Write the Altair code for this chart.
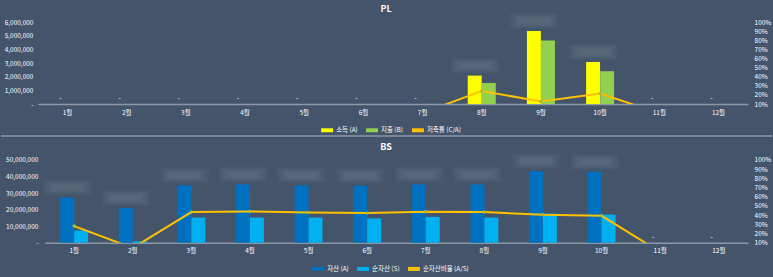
import altair as alt
import pandas as pd

months = ["1월", "2월", "3월", "4월", "5월", "6월", "7월", "8월", "9월", "10월", "11월", "12월"]

pl_names = ["소득 (A)", "지출 (B)", "저축률 (C/A)"]
pl_income = [0, 0, 0, 0, 0, 0, 0, 2090000, 5370000, 3090000, 0, 0]
pl_expense = [0, 0, 0, 0, 0, 0, 0, 1550000, 4670000, 2410000, 0, 0]
pl_rate = [0, 0, 0, 0, 0, 0, 0, 0.245, 0.128, 0.216, 0, 0]

bs_names = ["자산 (A)", "순자산 (S)", "순자산비율 (A/S)"]
bs_assets = [27300000, 21000000, 34700000, 35200000, 34700000, 34500000,
             35200000, 35200000, 43200000, 42800000, 0, 0]
bs_net = [7400000, 900000, 15200000, 15200000, 15200000, 14700000,
          15600000, 15200000, 17600000, 17000000, 0, 0]
bs_ratio = [0.281, 0.043, 0.433, 0.440, 0.429, 0.422, 0.436, 0.433, 0.404, 0.393, 0, 0]

pl_ticks = [0, 1000000, 2000000, 3000000, 4000000, 5000000, 6000000]
bs_ticks = [0, 10000000, 20000000, 30000000, 40000000, 50000000]
pct_ticks = [0.1, 0.2, 0.3, 0.4, 0.5, 0.6, 0.7, 0.8, 0.9, 1.0]

pl_colors = ["#FFFF00", "#92D050", "#FFC000"]
bs_colors = ["#0070C0", "#00B0F0", "#FFC000"]

BG = "#44546A"
FONT = "Noto Sans CJK KR"
WHITE = "#FFFFFF"
AXISLINE = "#8C97A8"
MARKER = "#A8BC3A"

W = 712


def blur_path(hw, hh, cy=-10):
    return f"M{-hw},{cy - hh}H{hw}V{cy + hh}H{-hw}Z"


def panel(title, names, colors, v1, v2, ratio, ticks, height, x_range,
          left_pad, legend_x, legend_y, frame_rules):
    bars = pd.DataFrame({
        "month": months * 2,
        "series": [names[0]] * 12 + [names[1]] * 12,
        "value": v1 + v2,
    })
    first = pd.DataFrame({"month": months, "series": names[0], "value": v1})
    line = pd.DataFrame({"month": months, "series": names[2], "ratio": ratio})

    xs = alt.Scale(paddingInner=0.525, paddingOuter=0.2625, range=x_range)
    x_axis = alt.Axis(title=None, labelColor=WHITE, labelFont=FONT, labelFontSize=6.5,
                      labelAngle=0, ticks=False, domainColor=AXISLINE, domainWidth=1.5,
                      labelPadding=5, grid=False)
    x = alt.X("month:N", sort=months, scale=xs, axis=x_axis)
    xo_scale = alt.Scale(domain=names[:2], paddingInner=0, paddingOuter=0)
    xo = alt.XOffset("series:N", scale=xo_scale, sort=names[:2])

    color = alt.Color(
        "series:N",
        scale=alt.Scale(domain=names, range=colors),
        legend=alt.Legend(orient="none", legendX=legend_x, legendY=legend_y,
                          direction="horizontal", title=None, labelColor=WHITE,
                          labelFont=FONT, labelFontSize=6.5,
                          symbolType="M-1,-0.33H1V0.33H-1Z", symbolSize=144,
                          symbolStrokeWidth=0, labelOffset=3, columnPadding=8),
    )

    ymax = ticks[-1]
    yscale = alt.Scale(domain=[0, ymax], nice=False)
    y_axis = alt.Axis(title=None, values=ticks, orient="left", grid=False, domain=False,
                      ticks=False, labelColor=WHITE, labelFont=FONT, labelFontSize=6.5,
                      labelPadding=left_pad,
                      labelExpr="datum.value == 0 ? '-' : format(datum.value, ',')")
    y = alt.Y("value:Q", scale=yscale, axis=y_axis)

    bar_layer = alt.Chart(bars).mark_bar(width=14).encode(
        x=x, xOffset=xo, y=y, color=color
    )
    dash = alt.Chart(first).transform_filter("datum.value == 0").mark_text(
        color=WHITE, font=FONT, fontSize=7, dy=-6
    ).encode(x=x, xOffset=xo, y=y, text=alt.value("-"))

    blurs = []
    for hw, hh in [(25, 8), (23, 7), (21, 6), (19, 5), (17, 4), (15, 3)]:
        blurs.append(
            alt.Chart(first).transform_filter("datum.value > 0").mark_point(
                shape=blur_path(hw, hh), filled=True, size=4, opacity=0.035,
                color="#B4BECC", strokeWidth=0
            ).encode(x=x, xOffset=xo, y=y)
        )

    left_group = alt.layer(bar_layer, dash, *blurs)

    rscale = alt.Scale(domain=[0.1, 1.0], nice=False)
    r_axis = alt.Axis(title=None, values=pct_ticks, format=".0%", orient="right",
                      grid=False, domain=False, ticks=False, labelColor=WHITE,
                      labelFont=FONT, labelFontSize=6.5, labelPadding=6)
    yr = alt.Y("ratio:Q", scale=rscale, axis=r_axis)
    line_layer = alt.Chart(line).mark_line(clip=True, strokeWidth=2).encode(
        x=x, y=yr, color=color
    )
    pts = alt.Chart(line).mark_point(clip=True, filled=True, size=12, color=MARKER,
                                     opacity=1).encode(x=x, y=yr)
    right_group = alt.layer(line_layer, pts)

    title_mark = alt.Chart(pd.DataFrame({"t": [title]})).mark_text(
        color=WHITE, font=FONT, fontSize=9, fontWeight="bold", baseline="middle"
    ).encode(x=alt.value(349), y=alt.value(-13), text="t:N")

    layers = [left_group, right_group, title_mark]
    for (x1, x2, yy, op) in frame_rules:
        layers.append(
            alt.Chart(pd.DataFrame({"k": [0]})).mark_rule(
                color=AXISLINE, strokeWidth=1.5, opacity=op
            ).encode(x=alt.value(x1), x2=alt.value(x2), y=alt.value(yy))
        )

    return alt.layer(*layers).resolve_scale(y="independent").properties(
        width=W, height=height
    )


pl = panel("PL", pl_names, pl_colors, pl_income, pl_expense, pl_rate, pl_ticks,
           82, [0, W], 5, 284, 102,
           [(-37, 736, -21.25, 0), (-37, 736, 114, 1)])
bs = panel("BS", bs_names, bs_colors, bs_assets, bs_net, bs_ratio, bs_ticks,
           83, [7, W], 0, 275, 103,
           [(-37, 736, 116.25, 0)])

chart = alt.vconcat(pl, bs, spacing=56, bounds="flush", background=BG,
                    padding=0).resolve_scale(
    color="independent", x="independent", xOffset="independent", y="independent"
).configure_view(stroke=None)

chart.save("out.html", embed_options={"renderer": "svg", "actions": False})
